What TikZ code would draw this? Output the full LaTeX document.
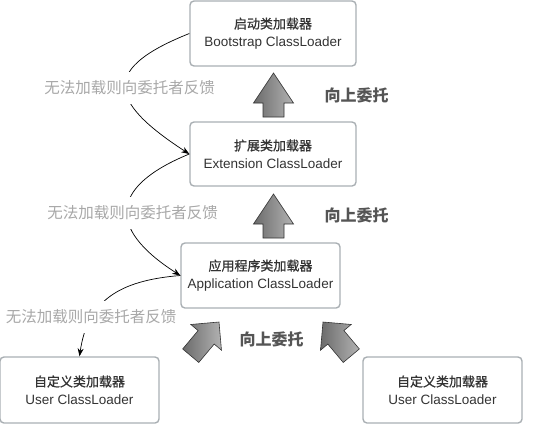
\documentclass[tikz,border=0pt]{standalone}
\usepackage{fontspec}
\setmainfont{Liberation Sans}
\newfontfamily\cjk{Noto Sans CJK SC}
\newfontfamily\cjkmid[FakeBold=0.8]{Noto Sans CJK SC}
\usetikzlibrary{arrows.meta}

\definecolor{boxline}{HTML}{A9AFB3}
\definecolor{boxtext}{HTML}{333333}
\definecolor{feedgray}{HTML}{A8A8A8}
\definecolor{upgray}{HTML}{555555}

\newcommand\zhline[1]{{\cjkmid\fontsize{13}{18}\selectfont #1}}

\tikzset{
  loader/.style={draw=boxline, line width=1.4pt, rounded corners=4pt,
    minimum width=166pt, minimum height=65pt, inner sep=0pt, align=center,
    text=boxtext, font=\fontsize{13.5}{18}\selectfont},
  feedback/.style={fill=white, text=feedgray, inner xsep=2pt, inner ysep=9pt,
    font=\cjk\fontsize{15.5}{18}\selectfont},
  uptext/.style={text=upgray, font=\cjk\bfseries\fontsize{16}{18}\selectfont},
  backline/.style={black, line width=0.7pt, -{Stealth[length=8pt,width=6pt]}},
  pics/fatarrow/.style={code={
    \draw[draw=black!80, line width=0.6pt, left color=black!58, right color=black!30]
      (0,0) -- (20,#1) -- (10.5,#1) -- (10.5,44) -- (-10.5,44)
      -- (-10.5,#1) -- (-20,#1) -- cycle;}}
}

\begin{document}
\begin{tikzpicture}[x=1pt, y=-1pt]
\useasboundingbox (0,0) rectangle (548,424);

% Klassenlader
\node[loader] (boot) at (273,33.5) {\zhline{启动类加载器}\\Bootstrap ClassLoader};
\node[loader, minimum height=64pt] (ext) at (273,154) {\zhline{扩展类加载器}\\Extension ClassLoader};
\node[loader, minimum width=159pt] (app) at (260.5,275.5) {\zhline{应用程序类加载器}\\Application ClassLoader};
\node[loader, minimum width=159pt, minimum height=66pt] (user1) at (79.5,390) {\zhline{自定义类加载器}\\User ClassLoader};
\node[loader, minimum width=159pt, minimum height=66pt] (user2) at (442.5,390) {\zhline{自定义类加载器}\\User ClassLoader};

% Rueckmeldung nach unten
\draw[backline] (boot.west) .. controls +(-85,34) and +(-85,-55) .. (ext.west);
\draw[backline] (ext.west) .. controls +(-78,32) and +(-75,-48) .. (app.west);
\draw[backline] (app.west) .. controls +(-62,5) and +(8,-55) .. (user1.north);

\node[feedback] (fb1) at (129.5,88) {无法加载则向委托者反馈};
\node[feedback] (fb2) at (132.5,213) {无法加载则向委托者反馈};
\node[feedback] (fb3) at (91,317) {无法加载则向委托者反馈};

% Delegation nach oben
\pic at (273.5,73) {fatarrow=30};
\pic at (273.5,194) {fatarrow=30};
\pic[rotate=-40] at (219,322) {fatarrow=20};
\pic[rotate=40] at (323,322) {fatarrow=20};

\node[uptext] (up1) at (356.5,95) {向上委托};
\node[uptext] (up2) at (356.5,215) {向上委托};
\node[uptext] (up3) at (271.5,339) {向上委托};
\end{tikzpicture}
\end{document}
